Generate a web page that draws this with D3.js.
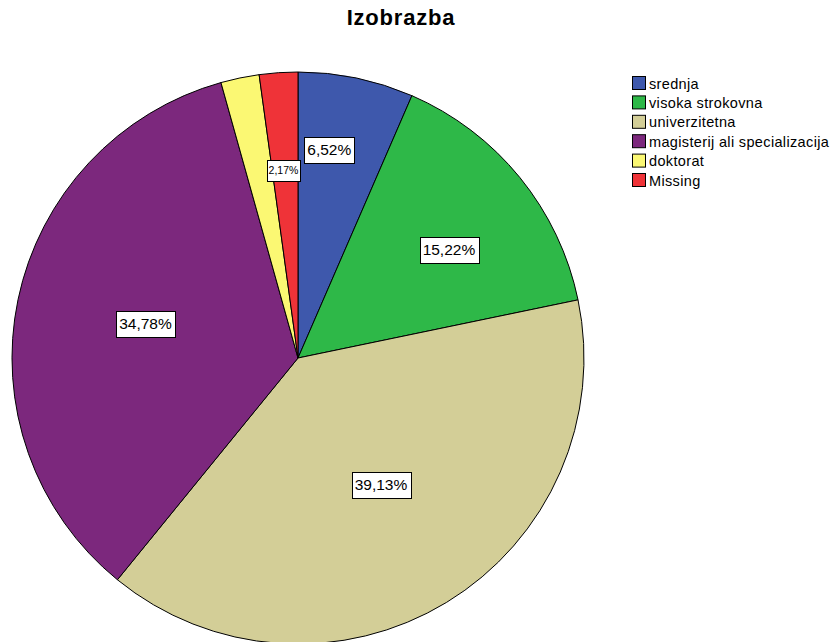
<!DOCTYPE html>
<html>
<head>
<meta charset="utf-8">
<script src="https://cdn.jsdelivr.net/npm/d3@7/dist/d3.min.js"></script>
<style>
html,body{margin:0;padding:0;background:#fff;}
svg{display:block;}
</style>
</head>
<body>
<svg id="chart" width="834" height="642"></svg>
<script>
const categories = ["srednja", "visoka strokovna", "univerzitetna", "magisterij ali specializacija", "doktorat", "Missing"];
const percents = [6.52, 15.22, 39.13, 34.78, 2.17, 2.17];
const labelTexts = ["6,52%", "15,22%", "39,13%", "34,78%", "", "2,17%"];
const colors = ["#3E58AC", "#2EB848", "#D3CE97", "#7C287D", "#FBF873", "#EF3338"];
const title = "Izobrazba";

// layout constants
const cx = 298, cy = 358, R = 286;
const labelRadiusFrac = [0.737, 0.65, 0.53, 0.547, 0.66, 0.66];
const labelAngleAdj = [-3.2, 3.4, -1.9, 1.0, 0, -0.5];
const labelFont = [15.5, 15.5, 15.5, 15.5, 10.5, 10.5];

const svg = d3.select("#chart");
const font = "'Liberation Sans', Arial, sans-serif";

svg.append("text").attr("x", 401).attr("y", 25).attr("text-anchor", "middle")
  .attr("font-family", font).attr("font-weight", "bold").attr("font-size", 22)
  .attr("letter-spacing", 0.8)
  .text(title);

const data = categories.map((c, i) => ({cat: c, value: percents[i], color: colors[i], label: labelTexts[i], i}));
const pie = d3.pie().value(d => d.value).sort(null);
const arcs = pie(data);
const arc = d3.arc().innerRadius(0).outerRadius(R);

const g = svg.append("g").attr("transform", `translate(${cx},${cy})`);
g.selectAll("path").data(arcs).join("path")
  .attr("d", arc).attr("fill", d => d.data.color)
  .attr("stroke", "#000").attr("stroke-width", 1).attr("stroke-linejoin", "round");

const lg = g.append("g");
arcs.forEach(a => {
  if (!a.data.label) return;
  const i = a.data.i;
  const ang = (a.startAngle + a.endAngle) / 2 + labelAngleAdj[i] * Math.PI / 180;
  const r = R * labelRadiusFrac[i];
  const x = r * Math.sin(ang), y = -r * Math.cos(ang);
  const fs = labelFont[i];
  const t = lg.append("text").attr("x", x).attr("y", y).attr("text-anchor", "middle")
    .attr("dominant-baseline", "central").attr("font-family", font).attr("font-size", fs)
    .text(a.data.label);
  const bb = t.node().getBBox();
  const pad = fs > 12 ? 3 : 1.7;
  const h = fs + 10;
  lg.insert("rect", () => t.node())
    .attr("x", Math.round(bb.x - pad) + 0.5).attr("y", Math.round(y - h / 2) + 0.5)
    .attr("width", Math.round(bb.width + 2 * pad)).attr("height", Math.round(h))
    .attr("fill", "#fff").attr("stroke", "#000").attr("stroke-width", 1);
});

// legend
const leg = svg.append("g").attr("transform", "translate(632,76)");
const rowH = 19.4;
const rows = leg.selectAll("g").data(data).join("g")
  .attr("transform", (d, i) => `translate(0,${i * rowH})`);
rows.append("rect").attr("x", 0.5).attr("y", 0.5).attr("width", 13).attr("height", 13)
  .attr("fill", d => d.color).attr("stroke", "#000").attr("stroke-width", 1);
rows.append("text").attr("x", 17).attr("y", 7.5).attr("dominant-baseline", "central")
  .attr("font-family", font).attr("font-size", 14.5).attr("letter-spacing", 0.35).text(d => d.cat);
</script>
</body>
</html>
